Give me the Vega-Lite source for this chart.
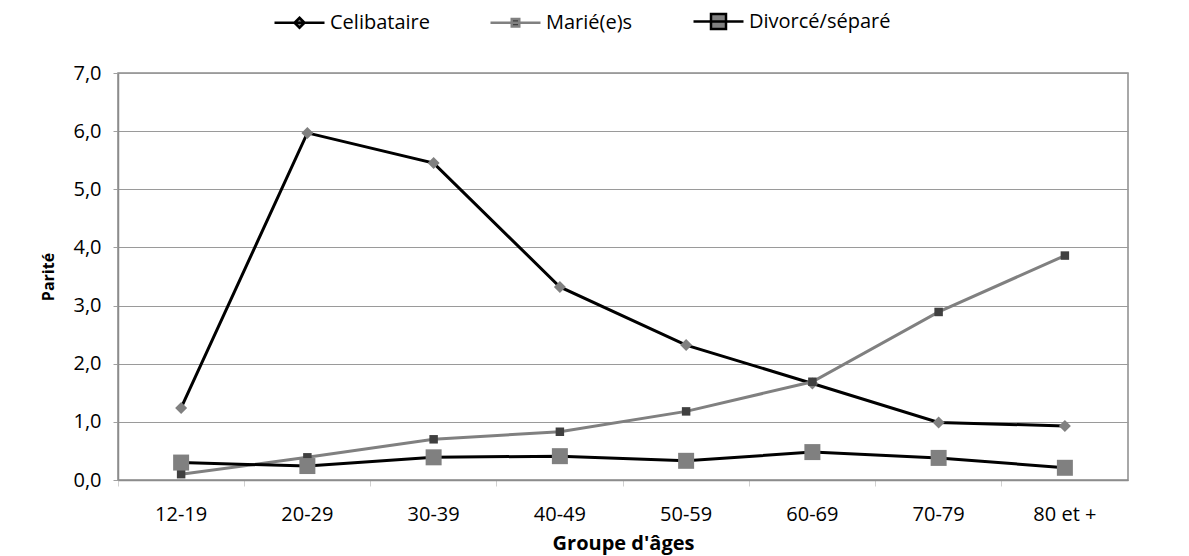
{
  "$schema": "https://vega.github.io/schema/vega-lite/v6.json",
  "width": 1010,
  "height": 407,
  "autosize": {"type": "none"},
  "padding": {"left": 118, "top": 73, "right": 61, "bottom": 76},
  "background": "white",
  "config": {
    "font": "Open Sans",
    "view": {"stroke": "#8c8c8c", "strokeWidth": 1.5},
    "axis": {"labelFont": "Open Sans", "titleFont": "Open Sans", "labelColor": "#000", "titleColor": "#000"}
  },
  "data": {
    "values": [
      {"age": "12-19", "series": "Celibataire", "v": 1.24},
      {"age": "20-29", "series": "Celibataire", "v": 5.97},
      {"age": "30-39", "series": "Celibataire", "v": 5.45},
      {"age": "40-49", "series": "Celibataire", "v": 3.32},
      {"age": "50-59", "series": "Celibataire", "v": 2.32},
      {"age": "60-69", "series": "Celibataire", "v": 1.66},
      {"age": "70-79", "series": "Celibataire", "v": 0.99},
      {"age": "80 et +", "series": "Celibataire", "v": 0.93},
      {"age": "12-19", "series": "Marié(e)s", "v": 0.10},
      {"age": "20-29", "series": "Marié(e)s", "v": 0.39},
      {"age": "30-39", "series": "Marié(e)s", "v": 0.70},
      {"age": "40-49", "series": "Marié(e)s", "v": 0.83},
      {"age": "50-59", "series": "Marié(e)s", "v": 1.18},
      {"age": "60-69", "series": "Marié(e)s", "v": 1.69},
      {"age": "70-79", "series": "Marié(e)s", "v": 2.89},
      {"age": "80 et +", "series": "Marié(e)s", "v": 3.86},
      {"age": "12-19", "series": "Divorcé/séparé", "v": 0.30},
      {"age": "20-29", "series": "Divorcé/séparé", "v": 0.24},
      {"age": "30-39", "series": "Divorcé/séparé", "v": 0.39},
      {"age": "40-49", "series": "Divorcé/séparé", "v": 0.41},
      {"age": "50-59", "series": "Divorcé/séparé", "v": 0.33},
      {"age": "60-69", "series": "Divorcé/séparé", "v": 0.48},
      {"age": "70-79", "series": "Divorcé/séparé", "v": 0.38},
      {"age": "80 et +", "series": "Divorcé/séparé", "v": 0.21}
    ]
  },
  "encoding": {
    "x": {
      "field": "age", "type": "ordinal",
      "sort": ["12-19", "20-29", "30-39", "40-49", "50-59", "60-69", "70-79", "80 et +"],
      "scale": {"type": "band", "paddingInner": 0, "paddingOuter": 0},
      "axis": {
        "title": "Groupe d'âges", "titleFontSize": 20, "titleFontWeight": "bold", "titlePadding": 9,
        "labelAngle": 0, "labelFontSize": 20, "labelPadding": 18,
        "bandPosition": 0, "tickSize": 6, "tickColor": "#d0d0d0", "tickWidth": 1,
        "domainColor": "#8c8c8c", "domainWidth": 1.5, "grid": false
      }
    },
    "y": {
      "field": "v", "type": "quantitative",
      "scale": {"domain": [0, 7], "nice": false, "zero": true},
      "axis": {
        "title": "Parité", "titleFontSize": 16, "titleFontWeight": "bold", "titlePadding": 16,
        "values": [0, 1, 2, 3, 4, 5, 6, 7],
        "labelExpr": "replace(format(datum.value, '.1f'), '.', ',')",
        "labelFontSize": 20, "labelPadding": 12,
        "tickSize": 5, "tickColor": "#a0a0a0", "tickWidth": 1,
        "domainColor": "#8c8c8c", "domainWidth": 1.5,
        "grid": true, "gridColor": "#9a9a9a", "gridWidth": 1.2
      }
    }
  },
  "layer": [
    {
      "mark": {"type": "line", "strokeWidth": 3},
      "encoding": {
        "stroke": {
          "field": "series", "type": "nominal",
          "scale": {"domain": ["Celibataire", "Marié(e)s", "Divorcé/séparé"], "range": ["#000000", "#808080", "#000000"]},
          "legend": {
            "title": null, "orient": "none", "direction": "horizontal",
            "legendX": 155, "legendY": -78,
            "symbolSize": 2500, "labelFontSize": 20, "labelFont": "Open Sans", "labelColor": "#000",
            "labelOffset": 4, "columnPadding": 55, "symbolStrokeWidth": 2.5,
            "encode": {
              "symbols": {
                "update": {
                  "shape": {"signal": "datum.value === 'Celibataire' ? 'M-1,0L1,0M0,-0.2L0.2,0L0,0.2L-0.2,0Z' : datum.value === 'Marié(e)s' ? 'M-1,0L1,0M-0.15,-0.15L0.15,-0.15L0.15,0.15L-0.15,0.15Z' : 'M-1,0L1,0M-0.3,-0.3L0.3,-0.3L0.3,0.3L-0.3,0.3Z'"},
                  "fill": {"signal": "datum.value === 'Marié(e)s' ? '#404040' : '#808080'"},
                  "size": {"value": 2500},
                  "strokeWidth": {"value": 2.5}
                }
              }
            }
          }
        },
        "detail": {"field": "series"}
      }
    },
    {
      "transform": [{"filter": "datum.series === 'Celibataire'"}],
      "mark": {"type": "point", "filled": true, "opacity": 1, "strokeWidth": 0, "shape": "diamond", "size": 144, "color": "#808080"}
    },
    {
      "transform": [{"filter": "datum.series === 'Marié(e)s'"}],
      "mark": {"type": "point", "filled": true, "opacity": 1, "strokeWidth": 0, "shape": "square", "size": 72, "color": "#404040"}
    },
    {
      "transform": [{"filter": "datum.series === 'Divorcé/séparé'"}],
      "mark": {"type": "point", "filled": true, "opacity": 1, "strokeWidth": 0, "shape": "square", "size": 256, "color": "#808080"}
    }
  ]
}
